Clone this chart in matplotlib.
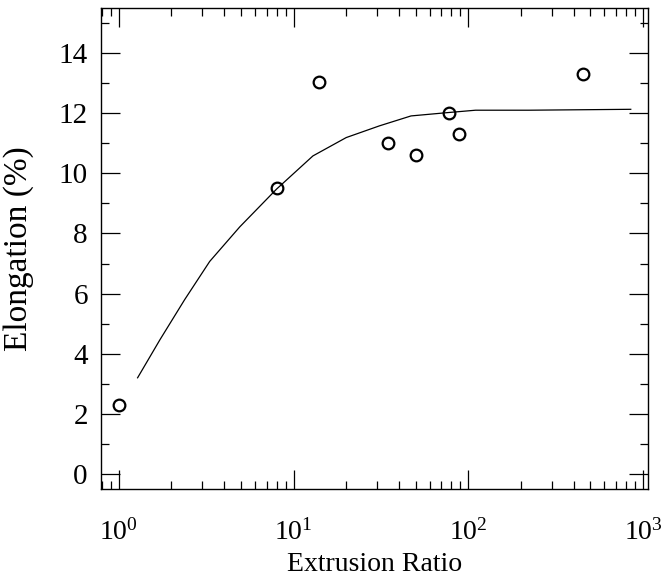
import matplotlib

matplotlib.use("Agg")
import matplotlib.pyplot as plt
from matplotlib.ticker import LogLocator, MultipleLocator, NullFormatter

# measured points
ratio = [1.0, 8.0, 14.0, 34.5, 50.0, 77.0, 88.0, 455.0]
elongation = [2.3, 9.5, 13.05, 11.0, 10.6, 12.0, 11.3, 13.3]

# fitted trend line
fit_ratio = [1.28, 1.72, 2.38, 3.31, 4.92, 8.0, 12.9, 20.0, 31.0, 47.0, 76.0, 110.0, 222.0, 850.0]
fit_elong = [3.2, 4.47, 5.8, 7.07, 8.22, 9.48, 10.58, 11.19, 11.58, 11.91, 12.02, 12.1, 12.1, 12.13]

plt.rcParams["font.family"] = ["Liberation Serif", "DejaVu Serif"]
plt.rcParams["mathtext.fontset"] = "custom"
plt.rcParams["mathtext.rm"] = "Liberation Serif"
plt.rcParams["mathtext.it"] = "Liberation Serif:italic"

fig = plt.figure(figsize=(6.63, 5.79), dpi=100)
ax = fig.add_axes([0.1523, 0.1554, 0.8251, 0.8308])

ax.plot(fit_ratio, fit_elong, color="black", linewidth=0.9)
ax.plot(ratio, elongation, linestyle="none", marker="o", markersize=8.4,
        markerfacecolor="none", markeredgecolor="black", markeredgewidth=1.6)

ax.set_xscale("log")
ax.set_xlim(0.79, 1067)
ax.set_ylim(-0.5, 15.5)

ax.xaxis.set_major_locator(LogLocator(base=10, numticks=10))
ax.xaxis.set_minor_locator(LogLocator(base=10, subs=range(2, 10), numticks=20))
ax.xaxis.set_minor_formatter(NullFormatter())
ax.yaxis.set_major_locator(MultipleLocator(2))
ax.yaxis.set_minor_locator(MultipleLocator(1))

ax.tick_params(which="both", direction="in", top=True, right=True, width=0.9)
ax.tick_params(which="major", length=14)
ax.tick_params(which="minor", length=6)
ax.tick_params(axis="x", which="major", pad=22, labelsize=20)
ax.tick_params(axis="y", which="major", pad=9.5, labelsize=21)
for spine in ax.spines.values():
    spine.set_linewidth(1.0)

ax.set_xlabel("Extrusion Ratio", fontsize=20, va="top")
ax.xaxis.set_label_coords(0.5, -0.13)
ax.set_ylabel("Elongation (%)", fontsize=24, va="bottom")
ax.yaxis.set_label_coords(-0.123, 0.5)

fig.savefig("out.png", dpi=100)
